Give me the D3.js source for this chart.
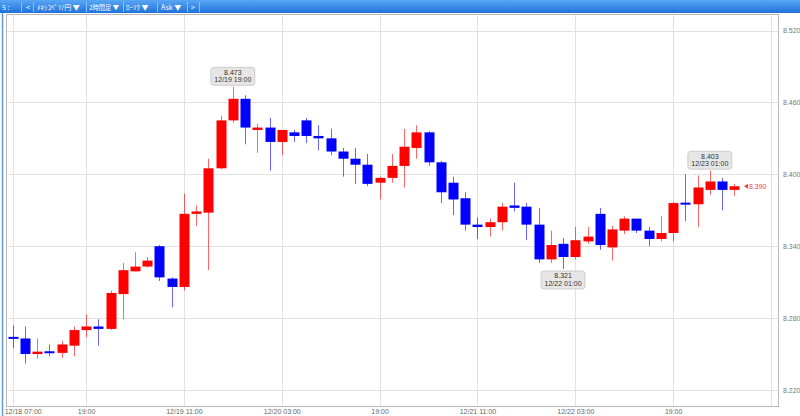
<!DOCTYPE html>
<html><head><meta charset="utf-8">
<script src="https://cdn.jsdelivr.net/npm/d3@7"></script>
<style>body{margin:0;background:#fff}svg{display:block}</style>
</head><body>
<svg id="c" width="800" height="416"></svg>
<script>
const times = ["12/18 07:00","12/18 09:00","12/18 11:00","12/18 13:00","12/18 15:00","12/18 17:00","12/18 19:00","12/18 21:00","12/18 23:00",
"12/19 01:00","12/19 03:00","12/19 05:00","12/19 07:00","12/19 09:00","12/19 11:00","12/19 13:00","12/19 15:00","12/19 17:00","12/19 19:00","12/19 21:00","12/19 23:00",
"12/20 01:00","12/20 03:00","12/20 05:00","12/20 07:00","12/20 09:00","12/20 11:00","12/20 13:00","12/20 15:00","12/20 17:00","12/20 19:00","12/20 21:00","12/20 23:00",
"12/21 01:00","12/21 03:00","12/21 05:00","12/21 07:00","12/21 09:00","12/21 11:00","12/21 13:00","12/21 15:00","12/21 17:00","12/21 19:00","12/21 21:00","12/21 23:00",
"12/22 01:00","12/22 03:00","12/22 05:00","12/22 07:00","12/22 09:00","12/22 11:00","12/22 13:00","12/22 15:00","12/22 17:00","12/22 19:00","12/22 21:00","12/22 23:00",
"12/23 01:00","12/23 03:00","12/23 05:00"];
const open  = [8.264,8.263,8.250,8.252,8.251,8.257,8.270,8.273,8.271,8.300,8.319,8.323,8.340,8.313,8.306,8.367,8.368,8.405,8.445,8.463,8.437,8.439,8.427,8.435,8.445,8.432,8.430,8.419,8.413,8.408,8.393,8.397,8.407,8.422,8.435,8.410,8.393,8.380,8.358,8.356,8.360,8.374,8.373,8.358,8.329,8.342,8.331,8.344,8.367,8.339,8.353,8.363,8.353,8.346,8.351,8.376,8.375,8.387,8.394,8.387];
const high  = [8.274,8.273,8.263,8.258,8.261,8.273,8.283,8.279,8.303,8.326,8.335,8.331,8.341,8.314,8.384,8.374,8.413,8.449,8.473,8.466,8.442,8.447,8.437,8.437,8.447,8.441,8.438,8.422,8.422,8.417,8.398,8.417,8.438,8.441,8.436,8.411,8.398,8.385,8.364,8.363,8.376,8.393,8.376,8.372,8.353,8.347,8.356,8.356,8.372,8.357,8.365,8.363,8.356,8.365,8.377,8.400,8.399,8.403,8.397,8.392];
const low   = [8.255,8.242,8.246,8.248,8.247,8.248,8.264,8.257,8.270,8.279,8.319,8.322,8.311,8.289,8.303,8.357,8.320,8.404,8.443,8.425,8.418,8.403,8.416,8.427,8.426,8.420,8.416,8.398,8.392,8.390,8.379,8.393,8.389,8.413,8.407,8.376,8.366,8.353,8.346,8.348,8.353,8.369,8.345,8.326,8.326,8.321,8.329,8.342,8.337,8.328,8.350,8.351,8.340,8.344,8.344,8.361,8.356,8.383,8.370,8.382];
const close = [8.263,8.250,8.252,8.251,8.258,8.270,8.273,8.271,8.301,8.320,8.323,8.328,8.314,8.306,8.367,8.369,8.405,8.445,8.463,8.439,8.439,8.427,8.437,8.432,8.432,8.430,8.419,8.413,8.408,8.392,8.397,8.407,8.423,8.435,8.410,8.385,8.379,8.358,8.356,8.360,8.373,8.372,8.358,8.329,8.341,8.331,8.345,8.348,8.341,8.354,8.363,8.353,8.346,8.351,8.376,8.375,8.389,8.394,8.387,8.390];
const yTicks = [8.22,8.28,8.34,8.40,8.46,8.52];
const xTickIdx = [0,6,14,22,30,38,46,54];
const xTickLabels = ["12/18 07:00","19:00","12/19 11:00","12/20 03:00","19:00","12/21 11:00","12/22 03:00","19:00"];
const xGridIdx = [0,6,14,22,30,38,46,54,62];
const menu = ["5 :","<","ﾒｷｼｺﾍﾟｿ/円 ▼","2時間足 ▼","ﾛｰｿｸ ▼","Ask ▼",">"];
const noteIdx = [18,45,57];   // candles with the price callouts
const noteIsHigh = [true,false,true];

const svg = d3.select("#c");
const W=800,H=416;
const frame={l:6.5,r:778.5,t:14.5,b:406.5};
const x = d3.scaleLinear().domain([0,59]).range([12.7,734.3]);
const y = d3.scaleLinear().domain([8.22,8.52]).range([390,30.5]);
const UP="#ff0000", DN="#0000ff";
const font="'Liberation Sans', Arial, sans-serif";

// toolbar
const defs=svg.append("defs");
const g1=defs.append("linearGradient").attr("id","tb").attr("x1",0).attr("x2",0).attr("y1",0).attr("y2",1);
g1.append("stop").attr("offset","0").attr("stop-color","#5aa6f5");
g1.append("stop").attr("offset","1").attr("stop-color","#1f72dc");
svg.append("rect").attr("x",0).attr("y",0).attr("width",W).attr("height",13).attr("fill","url(#tb)");
const menuX=[2,26,37,89,126,161,191];
const menuFs=[7,7,7,6.3,7,7,7];
const sepX=[21,33,86,123,157,187,199];
sepX.forEach(s=>svg.append("line").attr("x1",s+0.5).attr("x2",s+0.5).attr("y1",2).attr("y2",12).attr("stroke","#8cc0f8").attr("stroke-width",1));
menu.forEach((m,i)=>{
  svg.append("text").attr("x",menuX[i]).attr("y",9.5).attr("fill","#fff")
    .attr("font-family","'Noto Sans CJK JP', "+font).attr("font-size",menuFs[i]).text(m);
});

// left blue edge
svg.append("line").attr("x1",2.5).attr("x2",2.5).attr("y1",13).attr("y2",H).attr("stroke","#5b9be6").attr("stroke-width",1.5);

// grid
const gg=svg.append("g");
yTicks.forEach(v=>gg.append("line").attr("x1",frame.l).attr("x2",frame.r).attr("y1",Math.round(y(v))+0.5).attr("y2",Math.round(y(v))+0.5).attr("stroke","#e2e2e2"));
xGridIdx.forEach(i=>gg.append("line").attr("x1",Math.round(x(i))+0.5).attr("x2",Math.round(x(i))+0.5).attr("y1",frame.t).attr("y2",frame.b).attr("stroke","#e2e2e2"));
svg.append("rect").attr("x",frame.l).attr("y",frame.t).attr("width",frame.r-frame.l).attr("height",frame.b-frame.t).attr("fill","none").attr("stroke","#b8b8b8");

// y axis labels
const yAxis=d3.axisRight(y).tickValues(yTicks).tickFormat(d3.format(".3f")).tickSize(0).tickPadding(0);
const ya=svg.append("g").attr("transform",`translate(783,0)`).call(yAxis);
ya.select(".domain").remove();
ya.selectAll("text").attr("font-family",font).attr("font-size",7).attr("fill","#777");

// x axis labels
const xAxis=d3.axisBottom(x).tickValues(xTickIdx).tickFormat((d,i)=>xTickLabels[i]).tickSize(0).tickPadding(0);
const xa=svg.append("g").attr("transform",`translate(0,${frame.b+1})`).call(xAxis);
xa.select(".domain").remove();
xa.selectAll("text").attr("font-family",font).attr("font-size",7).attr("fill","#666").attr("dy","0.95em");
xa.selectAll(".tick").filter((d,i)=>i===0).select("text").attr("text-anchor","start").attr("x",-8.5);

// candles
const data=times.map((t,i)=>({t,i,o:open[i],h:high[i],l:low[i],c:close[i]}));
const bw=10;
const cg=svg.append("g");
cg.selectAll("line.w").data(data).join("line").attr("class","w")
  .attr("x1",d=>Math.round(x(d.i))+0.5).attr("x2",d=>Math.round(x(d.i))+0.5)
  .attr("y1",d=>y(d.h)).attr("y2",d=>y(d.l))
  .attr("stroke",d=>d.c>=d.o?UP:DN).attr("stroke-opacity",0.6).attr("stroke-width",1);
cg.selectAll("rect.b").data(data).join("rect").attr("class","b")
  .attr("x",d=>Math.round(x(d.i))+0.5-bw/2).attr("width",bw)
  .attr("y",d=>{const a=y(Math.max(d.o,d.c)),b=y(Math.min(d.o,d.c));return b-a<2?(a+b)/2-1:a;})
  .attr("height",d=>Math.max(2,y(Math.min(d.o,d.c))-y(Math.max(d.o,d.c))))
  .attr("fill",d=>d.c>=d.o?UP:DN);

// annotations
function note(i,isHigh){
  const val=isHigh?high[i]:low[i];
  const cx=x(i), bwid=44, bh=18;
  const top=isHigh? y(val)-bh-1.5 : y(val)+2;
  const g=svg.append("g");
  g.append("rect").attr("x",cx-bwid/2).attr("y",top).attr("width",bwid).attr("height",bh).attr("rx",3)
   .attr("fill","#e6e6e6").attr("stroke","#c4c4c4").attr("stroke-width",0.8);
  g.append("text").attr("x",cx).attr("y",top+7.5).attr("text-anchor","middle").attr("font-family",font).attr("font-size",7).attr("fill","#333").text(d3.format(".3f")(val));
  g.append("text").attr("x",cx).attr("y",top+15).attr("text-anchor","middle").attr("font-family",font).attr("font-size",7).attr("fill","#333").text(times[i]);
}
noteIdx.forEach((i,k)=>note(i,noteIsHigh[k]));

// current price
const last=close[close.length-1];
const py=y(last);
svg.append("path").attr("d",`M744,${py} L748,${py-2.5} L748,${py+2.5} Z`).attr("fill","#f03c3c");
svg.append("text").attr("x",749).attr("y",py+2.5).attr("font-family",font).attr("font-size",7).attr("fill","#f03c3c").text(d3.format(".3f")(last));
</script>
</body></html>
